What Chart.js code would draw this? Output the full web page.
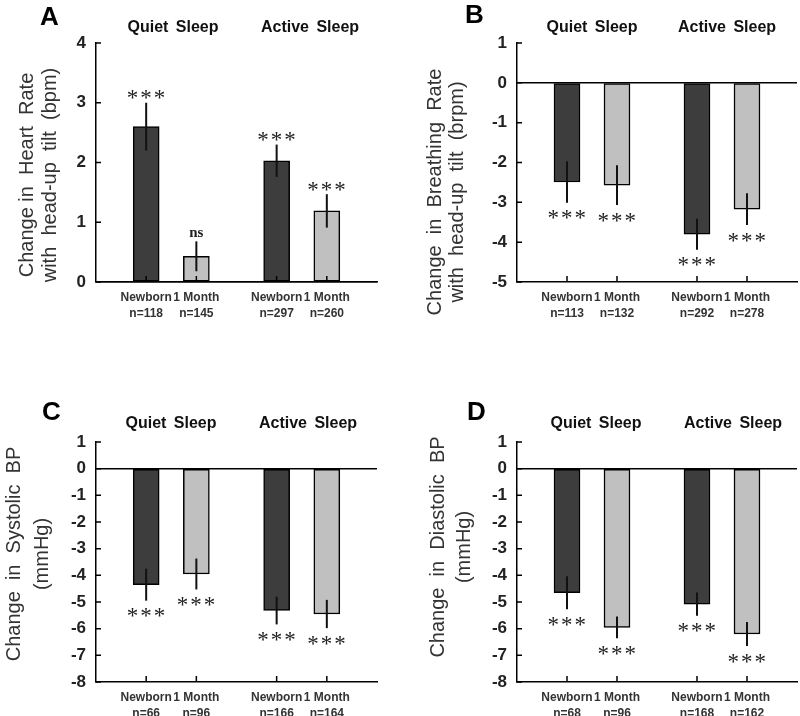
<!DOCTYPE html>
<html>
<head>
<meta charset="utf-8">
<script src="https://cdn.jsdelivr.net/npm/chart.js@4.4.1/dist/chart.umd.min.js"></script>
<style>
  body { margin: 0; background: #fff; }
  #wrap { position: relative; width: 800px; height: 716px; overflow: hidden; }
  canvas { position: absolute; }
</style>
</head>
<body>
<div id="wrap">
  <canvas id="chartA" width="400" height="340" style="left:0;top:0"></canvas>
  <canvas id="chartB" width="400" height="340" style="left:400px;top:0"></canvas>
  <canvas id="chartC" width="400" height="376" style="left:0;top:340px"></canvas>
  <canvas id="chartD" width="400" height="376" style="left:400px;top:340px"></canvas>
</div>
<script>
const groups = ['Quiet Sleep', 'Active Sleep'];
const ages = ['Newborn', '1 Month', 'Newborn', '1 Month'];

// A: heart rate
const hrTitle = ['Change in  Heart  Rate', 'with  head-up  tilt  (bpm)'];
const hrN = ['n=118', 'n=145', 'n=297', 'n=260'];
const hrMean = [2.6, 0.43, 2.03, 1.19];
const hrErr = [0.4, 0.25, 0.27, 0.28];
const hrSig = ['***', 'ns', '***', '***'];
const hrTicks = [0, 1, 2, 3, 4];

// B: breathing rate
const brTitle = ['Change  in  Breathing  Rate', 'with  head-up  tilt  (brpm)'];
const brN = ['n=113', 'n=132', 'n=292', 'n=278'];
const brMean = [-2.49, -2.57, -3.8, -3.17];
const brErr = [0.52, 0.5, 0.39, 0.4];
const brSig = ['***', '***', '***', '***'];
const brTicks = [-5, -4, -3, -2, -1, 0, 1];

// C: systolic BP
const sbpTitle = ['Change  in  Systolic  BP', '(mmHg)'];
const sbpN = ['n=66', 'n=96', 'n=166', 'n=164'];
const sbpMean = [-4.35, -3.95, -5.32, -5.45];
const sbpErr = [0.6, 0.58, 0.52, 0.53];
const sbpSig = ['***', '***', '***', '***'];

// D: diastolic BP
const dbpTitle = ['Change  in  Diastolic  BP', '(mmHg)'];
const dbpN = ['n=68', 'n=96', 'n=168', 'n=162'];
const dbpMean = [-4.65, -5.95, -5.08, -6.2];
const dbpErr = [0.62, 0.41, 0.44, 0.45];
const dbpSig = ['***', '***', '***', '***'];

const bpTicks = [-8, -7, -6, -5, -4, -3, -2, -1, 0, 1];

// bar slots on the x scale (two per group, wider gap between groups)
const slots = [1, 2, 3.6, 4.6];
const fills = ['#3d3d3d', '#c0c0c0', '#3d3d3d', '#c0c0c0'];
const sans = 'Arial, "Liberation Sans", sans-serif';
const serif = '"Times New Roman", "Liberation Serif", serif';

function centerText(ctx, s, cx, cy) {
  const m = ctx.measureText(s);
  ctx.fillText(s, cx - (m.actualBoundingBoxRight - m.actualBoundingBoxLeft) / 2,
    cy + (m.actualBoundingBoxAscent - m.actualBoundingBoxDescent) / 2);
}

const decor = {
  id: 'decor',
  afterDraw(chart, args, o) {
    const ctx = chart.ctx, xs = chart.scales.x, ys = chart.scales.y;
    ctx.save();
    ctx.strokeStyle = '#000';
    ctx.lineWidth = 1.5;
    ctx.beginPath();
    ys.ticks.forEach(t => {
      const py = ys.getPixelForValue(t.value);
      ctx.moveTo(xs.left, py); ctx.lineTo(xs.left + 5, py);
    });
    xs.ticks.forEach(t => {
      const px = xs.getPixelForValue(t.value);
      ctx.moveTo(px, ys.bottom); ctx.lineTo(px, ys.bottom - 6);
    });
    ctx.stroke();

    // error bars + significance marks
    const pts = chart.data.datasets[0].data;
    ctx.lineWidth = 2;
    ctx.strokeStyle = '#111';
    ctx.fillStyle = '#222';
    ctx.textAlign = 'left';
    ctx.textBaseline = 'alphabetic';
    pts.forEach((p, i) => {
      const px = xs.getPixelForValue(p.x);
      const top = ys.getPixelForValue(p.y + o.err[i]);
      const bot = ys.getPixelForValue(p.y - o.err[i]);
      ctx.beginPath(); ctx.moveTo(px, top); ctx.lineTo(px, bot); ctx.stroke();
      const s = o.sig[i];
      if (s === 'ns') {
        ctx.font = 'bold 15px ' + serif;
        ctx.letterSpacing = '0px';
      } else {
        ctx.font = '23px ' + serif;
        ctx.letterSpacing = '2px';
      }
      centerText(ctx, s, px, p.y >= 0 ? top - 8 : bot + 12);
    });
    ctx.letterSpacing = '0px';

    // panel letter
    ctx.fillStyle = '#000';
    ctx.font = 'bold 26px ' + sans;
    ctx.fillText(o.letter, o.letterX, o.letterY);

    // group headings
    ctx.fillStyle = '#111';
    ctx.font = 'bold 16px ' + sans;
    ctx.textAlign = 'center';
    ctx.wordSpacing = '3px';
    groups.forEach((g, i) => ctx.fillText(g, o.groupX[i], o.groupY));
    ctx.wordSpacing = '0px';

    // y title, rotated
    ctx.fillStyle = '#333';
    ctx.font = '20px ' + sans;
    ctx.textBaseline = 'middle';
    o.title.forEach((line, i) => {
      ctx.save();
      ctx.translate(o.titleX[i], o.titleY);
      ctx.rotate(-Math.PI / 2);
      ctx.fillText(line, 0, 0);
      ctx.restore();
    });
    ctx.restore();
  }
};

function panel(id, cfg) {
  new Chart(document.getElementById(id), {
    type: 'bar',
    data: {
      datasets: [{
        data: cfg.mean.map((v, i) => ({x: slots[i], y: v})),
        backgroundColor: fills,
        borderColor: '#000',
        borderWidth: 1.5,
        borderSkipped: false,
        barThickness: 26
      }]
    },
    options: {
      responsive: false,
      animation: false,
      layout: {padding: cfg.pad},
      plugins: {legend: {display: false}, tooltip: {enabled: false}, decor: cfg},
      scales: {
        x: {
          type: 'linear', min: 0, max: 5.6, offset: false,
          afterBuildTicks: s => { s.ticks = slots.map(v => ({value: v})); },
          afterFit: s => { s.height = cfg.xh; },
          grid: {display: false, drawTicks: false},
          border: {color: '#000', width: 1.5},
          ticks: {
            autoSkip: false, maxRotation: 0, padding: 8, color: '#333',
            font: {family: sans, size: 12, weight: 'bold', lineHeight: 1.3},
            callback: (v, i) => [ages[i], cfg.n[i]]
          }
        },
        y: {
          min: cfg.ticks[0], max: cfg.ticks[cfg.ticks.length - 1],
          afterBuildTicks: s => { s.ticks = cfg.ticks.map(v => ({value: v})); },
          afterFit: s => { s.width = cfg.yw; },
          grid: {
            drawTicks: false, lineWidth: 1.5,
            color: c => (c.tick && c.tick.value === 0) ? '#000' : 'rgba(0,0,0,0)'
          },
          border: {color: '#000', width: 1.5},
          ticks: {padding: 10, color: '#222', font: {family: sans, size: 17, weight: 'bold'}}
        }
      }
    },
    plugins: [decor]
  });
}

panel('chartA', {
  mean: hrMean, err: hrErr, sig: hrSig, n: hrN, ticks: hrTicks, title: hrTitle,
  yw: 96, xh: 58, pad: {left: 0, right: 23, top: 43, bottom: 0},
  letter: 'A', letterX: 40, letterY: 25,
  groupX: [173, 310], groupY: 32,
  titleX: [27, 50], titleY: 175
});
panel('chartB', {
  mean: brMean, err: brErr, sig: brSig, n: brN, ticks: brTicks, title: brTitle,
  yw: 117, xh: 58, pad: {left: 0, right: 3, top: 43, bottom: 0},
  letter: 'B', letterX: 65, letterY: 23,
  groupX: [592, 727].map(v => v - 400), groupY: 32,
  titleX: [35, 57], titleY: 192
});
panel('chartC', {
  mean: sbpMean, err: sbpErr, sig: sbpSig, n: sbpN, ticks: bpTicks, title: sbpTitle,
  yw: 96, xh: 34, pad: {left: 0, right: 23, top: 102, bottom: 0},
  letter: 'C', letterX: 42, letterY: 80,
  groupX: [171, 308], groupY: 88,
  titleX: [14, 42], titleY: 214
});
panel('chartD', {
  mean: dbpMean, err: dbpErr, sig: dbpSig, n: dbpN, ticks: bpTicks, title: dbpTitle,
  yw: 117, xh: 34, pad: {left: 0, right: 3, top: 102, bottom: 0},
  letter: 'D', letterX: 67, letterY: 80,
  groupX: [196, 333], groupY: 88,
  titleX: [38, 64], titleY: 207
});
</script>
</body>
</html>
